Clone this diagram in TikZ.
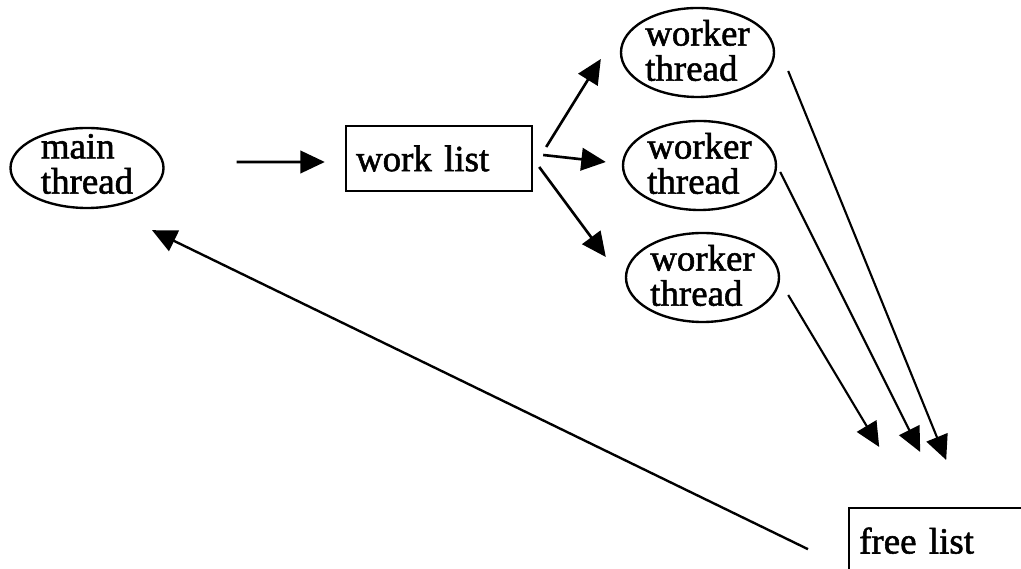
\documentclass[tikz,border=0pt]{standalone}
\usepackage{fontspec}
\setmainfont{Liberation Serif}[FakeBold=1.5,WordSpace=0.6]
\usetikzlibrary{arrows.meta,shapes.geometric}

\begin{document}
\begin{tikzpicture}[>={Triangle[width=4.5mm,length=4.9mm]},->]
\tikzstyle{every node}=[font=\fontsize{21}{20}\selectfont]
\tikzstyle{thread}=[draw,ellipse,line width=1.35pt,minimum width=3.06cm,minimum height=1.78cm,inner sep=0pt]
\tikzstyle{list}=[draw,rectangle,line width=1.35pt,minimum width=3.72cm,minimum height=1.3cm,text width=3.32cm,align=left,inner xsep=0.2cm,inner ysep=0pt]

\useasboundingbox (0,0) rectangle (20.42,11.38);

\node[thread,minimum height=1.6cm,label={[align=left,yshift=0.8mm]center:main\\thread}] (main) at (1.74,8.02) {};
\node[list] (work) at (8.78,8.21) {work list};

\node[thread,label={[align=left,yshift=0.4mm]center:worker\\thread}] (w1) at (13.95,10.33) {};
\node[thread,label={[align=left,yshift=0.4mm]center:worker\\thread}] (w2) at (13.99,8.07) {};
\node[thread,label={[align=left,yshift=0.4mm]center:worker\\thread}] (w3) at (14.05,5.83) {};

\node[list,anchor=north west] (free) at (16.96,1.24) {free list};

\draw[line width=1.5pt] ([shift={(1.44,0.12)}]main.east) -- ([shift={(-0.4,-0.07)}]work.west);

\draw[line width=1.5pt] ([shift={(0.26,0.23)}]work.east) -- ([shift={(-0.38,-0.13)}]w1.west);
\draw[line width=1.5pt] ([shift={(0.2,0.07)}]work.east) -- ([shift={(-0.32,0.07)}]w2.west);
\draw[line width=1.5pt] ([shift={(0.12,-0.17)}]work.east) -- ([shift={(-0.38,0.41)}]w3.west);

\draw[line width=1.2pt] ([shift={(0.26,-0.37)}]w1.east) -- ([shift={(0.08,0.94)}]free.north);
\draw[line width=1.2pt] ([shift={(0.06,-0.13)}]w2.east) -- ([shift={(-0.44,1.1)}]free.north);
\draw[line width=1.2pt] ([shift={(0.16,-0.35)}]w3.east) -- ([shift={(-1.26,1.2)}]free.north);

\draw[line width=1.35pt] ([shift={(-0.8,-0.17)}]free.west) -- ([shift={(1.3,-0.42)}]main.south);

\end{tikzpicture}
\end{document}
